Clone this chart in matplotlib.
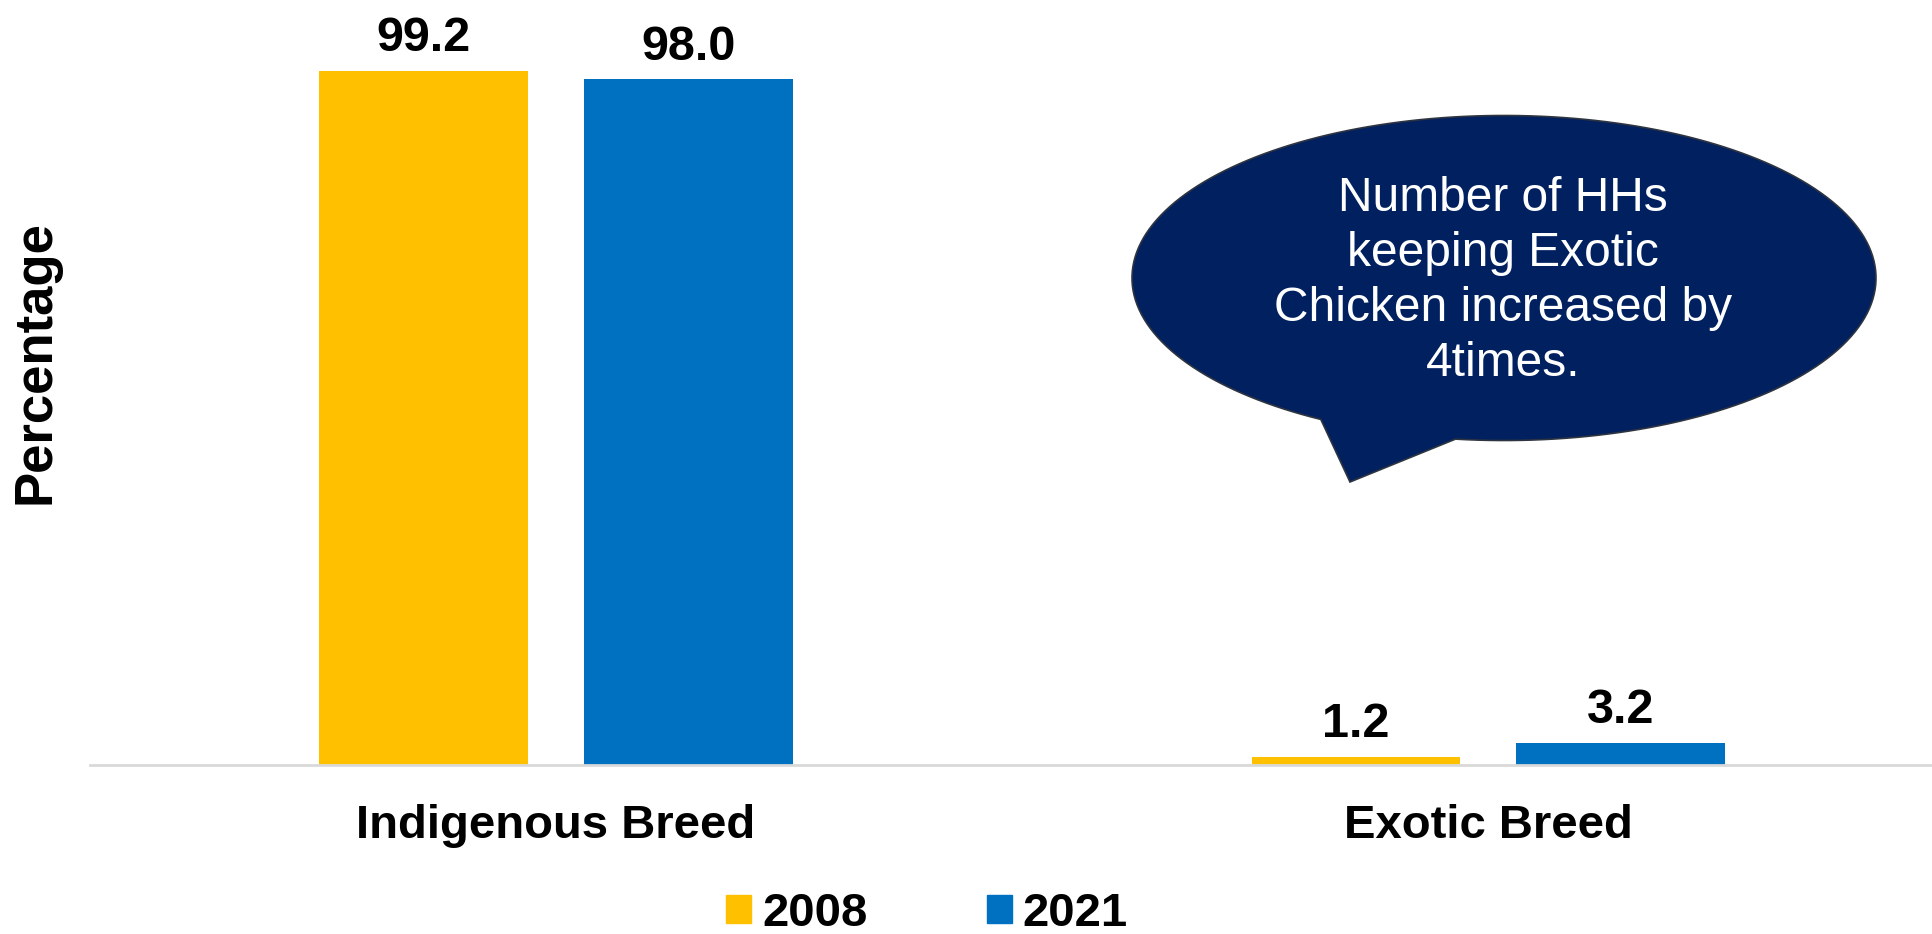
import numpy as np
import matplotlib
matplotlib.use("Agg")
import matplotlib.pyplot as plt
from matplotlib.patches import Patch, PathPatch
from matplotlib.path import Path

plt.rcParams['font.family'] = ['Liberation Sans', 'DejaVu Sans']

categories = ['Indigenous Breed', 'Exotic Breed']
years = ['2008', '2021']
vals_2008 = [99.2, 1.2]
vals_2021 = [98.0, 3.2]
colors = ['#FFC000', '#0070C0']
note = 'Number of HHs\nkeeping Exotic\nChicken increased by\n4times.'

W, H = 1933, 934
fig = plt.figure(figsize=(W / 100, H / 100), dpi=100)
ax = fig.add_axes([90 / W, 1 - 765 / H, 1 - 90 / W, 765 / H])

x = np.arange(len(categories))
bw = 0.224
off = 0.142
for vals, c, lab, sh in zip([vals_2008, vals_2021], colors, years, [-off, off]):
    bars = ax.bar(x + sh, vals, bw, color=c, label=lab, zorder=2)
    for b, v in zip(bars, vals):
        ax.annotate('{:.1f}'.format(v), (b.get_x() + b.get_width() / 2, v),
                    xytext=(0, 14), textcoords='offset points',
                    ha='center', va='baseline', fontsize=35, fontweight='bold')

ax.set_xlim(-0.5, 1.477)
ax.set_ylim(0, 765 / 7.0)
ax.set_xticks(x)
ax.set_xticklabels(categories, fontsize=34, fontweight='bold')
ax.tick_params(axis='x', length=0, pad=28)
ax.set_yticks([])
for s in ['top', 'right', 'left']:
    ax.spines[s].set_visible(False)
ax.spines['bottom'].set_color('#D9D9D9')
ax.spines['bottom'].set_linewidth(2)

fig.text(36 / W, 1 - 362 / H, 'Percentage', rotation=90, ha='center', va='center',
         fontsize=38, fontweight='bold')

handles = [Patch(color=c) for c in colors]
fig.legend(handles, years, loc='lower center', bbox_to_anchor=(927 / W, -0.027),
           ncol=2, frameon=False, borderpad=0, handlelength=0.53, handleheight=0.53,
           handletextpad=0.23, columnspacing=2.52,
           prop={'size': 34, 'weight': 'bold'})

# speech bubble
cx, cy, a, b = 1504, 278, 372, 162.5
t = np.radians(np.linspace(262.5, 600.5, 200))
px = cx + a * np.cos(t)
py = cy - b * np.sin(t)
pts = list(zip(px, py)) + [(1350, 482), (px[0], py[0])]
pts = [(p[0] / W, 1 - p[1] / H) for p in pts]
codes = [Path.MOVETO] + [Path.LINETO] * (len(pts) - 2) + [Path.CLOSEPOLY]
bubble = PathPatch(Path(pts, codes), transform=fig.transFigure, facecolor='#002060',
                   edgecolor='#2E3440', linewidth=1.2, zorder=5)
fig.patches.append(bubble)
fig.text(1503 / W, 1 - 281 / H, note, ha='center', va='center', multialignment='center',
         color='white', fontsize=34.5, linespacing=1.28, zorder=6)

fig.savefig('out.png', dpi=100)
